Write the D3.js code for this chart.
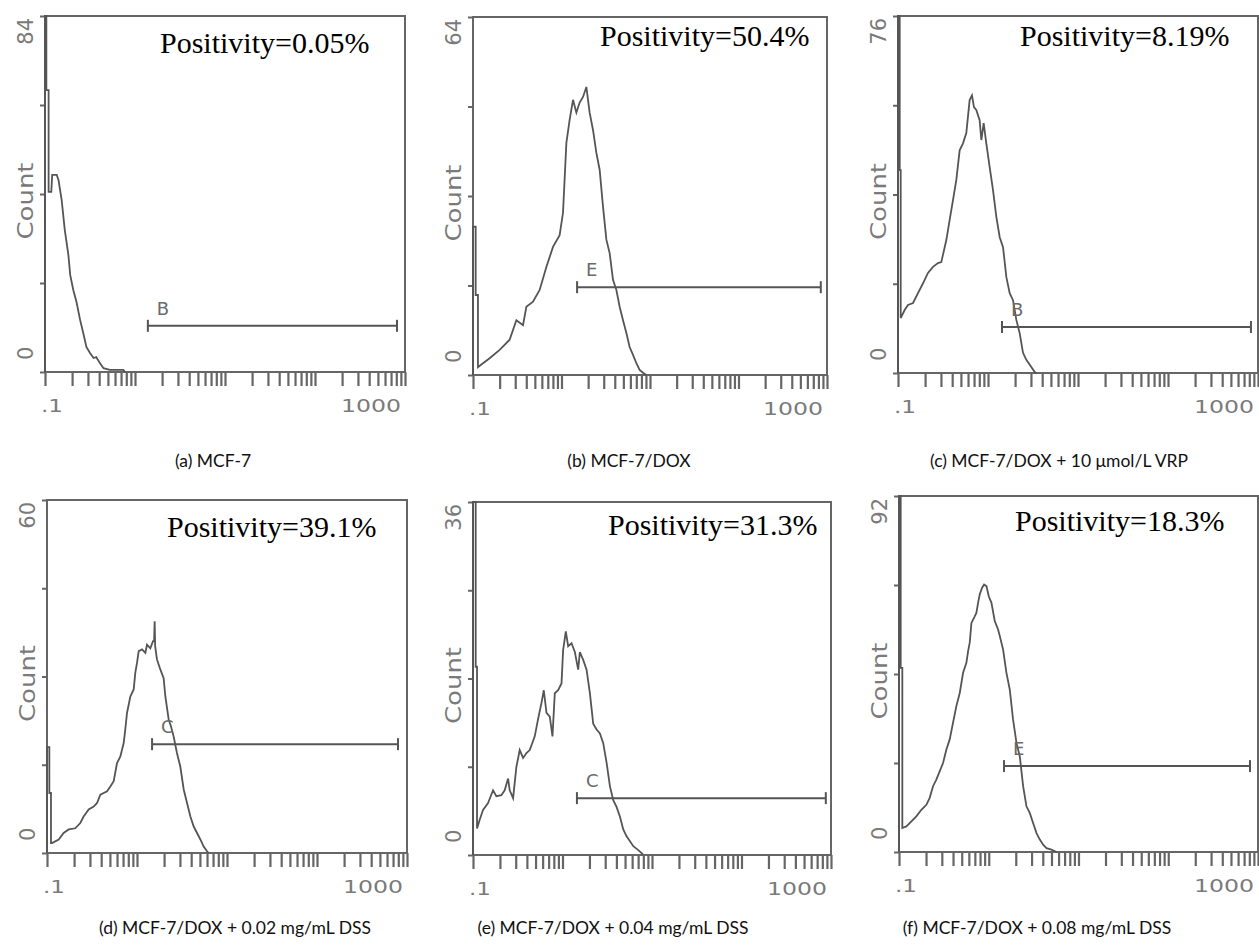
<!DOCTYPE html>
<html>
<head>
<meta charset="utf-8">
<script src="https://cdn.jsdelivr.net/npm/d3@7"></script>
<style>
  body { margin: 0; background: #fff; }
  svg { display: block; }
</style>
</head>
<body>
<script>
// panel captions and labels
const captions = [
  '(a) MCF-7',
  '(b) MCF-7/DOX',
  '(c) MCF-7/DOX + 10 \u03bcmol/L VRP',
  '(d) MCF-7/DOX + 0.02 mg/mL DSS',
  '(e) MCF-7/DOX + 0.04 mg/mL DSS',
  '(f) MCF-7/DOX + 0.08 mg/mL DSS',
];
const positivity = ['0.05%', '50.4%', '8.19%', '39.1%', '31.3%', '18.3%'];
const countMax = [84, 64, 76, 60, 36, 92];
const xDomain = [0.1, 1000];
const xTickLabels = ['.1', '1000'];

// gate markers: letter, fluorescence range, count level
const gateLetters = ['B', 'E', 'B', 'C', 'C', 'E'];
const gateRanges = [[1.39, 815], [1.5, 851], [1.43, 835], [1.47, 794], [1.45, 875], [1.48, 815]];
const gateCounts = [10.9, 15.7, 9.8, 18.5, 5.8, 22.2];

// histograms: [log10 fluorescence, count]
const histA = [[-1.0, 0], [-1.0, 84], [-0.985, 84], [-0.985, 66.5], [-0.96, 66.5], [-0.96, 42.5], [-0.93, 42.5],
  [-0.92, 46.5], [-0.87, 46.5], [-0.85, 45.3], [-0.815, 40.6], [-0.78, 33.5], [-0.74, 27.6], [-0.72, 22.9],
  [-0.685, 19.3], [-0.65, 16.5], [-0.61, 12.3], [-0.575, 9.2], [-0.54, 5.9], [-0.5, 4.5], [-0.46, 3.3],
  [-0.43, 3.5], [-0.39, 2.1], [-0.35, 0.9], [-0.28, 0.5], [-0.13, 0.5], [-0.11, 0]];

const histB = [[-1.0, 0], [-1.0, 26.5], [-0.97, 26.5], [-0.97, 14.3], [-0.944, 14.3], [-0.944, 1.4], [-0.887, 2.1],
  [-0.812, 3.0], [-0.699, 4.5], [-0.586, 6.3], [-0.51, 9.8], [-0.435, 8.9], [-0.397, 12.2], [-0.322, 13.1],
  [-0.247, 15.2], [-0.171, 19.3], [-0.096, 22.9], [-0.021, 25], [0.017, 29], [0.055, 41.5], [0.092, 45.6],
  [0.13, 49.2], [0.168, 46.9], [0.205, 48.7], [0.243, 49.7], [0.281, 51.5], [0.318, 46.9], [0.356, 43.8],
  [0.394, 39.7], [0.431, 36.7], [0.469, 30.1], [0.507, 24.2], [0.544, 21.8], [0.582, 17], [0.62, 15.2],
  [0.657, 12.2], [0.695, 9.8], [0.733, 7.5], [0.77, 5], [0.808, 3.6], [0.846, 2.1], [0.883, 0.9],
  [0.921, 0.4], [0.959, 0]];

const histC = [[-1.0, 0], [-1.0, 76], [-0.981, 76], [-0.981, 43.2], [-0.97, 43.2], [-0.97, 11.7], [-0.926, 13.4],
  [-0.889, 14.5], [-0.833, 14.9], [-0.778, 17], [-0.722, 19.1], [-0.667, 21.3], [-0.611, 22.6], [-0.556, 23.4],
  [-0.519, 23.6], [-0.463, 28.3], [-0.426, 32.6], [-0.389, 36.8], [-0.352, 41.1], [-0.315, 47.4],
  [-0.278, 48.9], [-0.241, 51.1], [-0.204, 58.1], [-0.178, 59.1], [-0.156, 56.6], [-0.13, 56], [-0.093, 53.8],
  [-0.074, 49.6], [-0.048, 53.2], [-0.019, 48.9], [0.019, 43.8], [0.056, 38.9], [0.093, 33.2], [0.13, 28.9],
  [0.167, 26.8], [0.204, 20.4], [0.241, 17], [0.278, 15.5], [0.315, 11.3], [0.352, 8.5], [0.389, 4.3],
  [0.426, 2.8], [0.481, 1.3], [0.519, 0.2], [0.537, 0]];

const histD = [[-1.0, 0], [-1.0, 18], [-0.974, 18], [-0.974, 10.2], [-0.956, 10.2], [-0.956, 1.7], [-0.944, 1.7],
  [-0.87, 2.3], [-0.815, 3.4], [-0.759, 4.0], [-0.685, 4.2], [-0.63, 5.1], [-0.593, 6.2], [-0.537, 7.4],
  [-0.481, 7.9], [-0.444, 8.5], [-0.407, 9.9], [-0.37, 10.2], [-0.333, 10.5], [-0.296, 11.3], [-0.259, 12.2],
  [-0.222, 15.3], [-0.185, 16.4], [-0.148, 18.7], [-0.13, 21.0], [-0.111, 23.8], [-0.074, 26.6],
  [-0.037, 27.8], [-0.019, 30.6], [0.0, 32.3], [0.019, 34.3], [0.056, 34.6], [0.093, 34.0], [0.111, 35.4],
  [0.148, 34.8], [0.178, 36.0], [0.19, 36.0], [0.196, 39.4], [0.202, 35.1], [0.222, 32.9], [0.259, 31.2],
  [0.296, 29.7], [0.315, 26.6], [0.352, 22.7], [0.378, 21.5], [0.407, 19.8], [0.444, 17.0], [0.481, 14.7],
  [0.519, 10.8], [0.556, 8.5], [0.593, 6.2], [0.63, 4.5], [0.667, 3.4], [0.704, 2.3], [0.741, 1.1],
  [0.778, 0.3], [0.796, 0]];

const histE = [[-1.0, 0], [-1.0, 36], [-0.97, 36], [-0.97, 19.2], [-0.955, 19.2], [-0.955, 2.7], [-0.925, 3.6],
  [-0.888, 4.6], [-0.832, 5.3], [-0.776, 6.6], [-0.739, 6.0], [-0.683, 6.1], [-0.646, 6.6], [-0.608, 7.8],
  [-0.59, 6.6], [-0.552, 5.8], [-0.515, 9.0], [-0.478, 10.7], [-0.44, 9.9], [-0.403, 10.4], [-0.366, 10.7],
  [-0.31, 12.1], [-0.272, 13.9], [-0.235, 15.5], [-0.209, 16.8], [-0.179, 14.5], [-0.142, 14.1],
  [-0.112, 12.1], [-0.086, 16.5], [-0.049, 16.8], [-0.011, 17.5], [0.007, 20.9], [0.037, 22.8],
  [0.063, 21.3], [0.101, 21.6], [0.138, 20.7], [0.175, 18.9], [0.194, 20.7], [0.231, 19.9], [0.269, 18.9],
  [0.306, 16.5], [0.343, 13.4], [0.381, 12.8], [0.418, 12.4], [0.455, 11.4], [0.493, 9.4], [0.53, 7.0],
  [0.567, 5.6], [0.604, 4.9], [0.642, 3.9], [0.679, 2.6], [0.716, 1.9], [0.754, 1.4], [0.791, 0.9],
  [0.847, 0.5], [0.884, 0.2], [0.903, 0]];

const histF = [[-1.0, 0], [-1.0, 92], [-0.981, 92], [-0.981, 47.6], [-0.963, 47.6], [-0.963, 6.2], [-0.918, 6.6],
  [-0.862, 7.9], [-0.807, 9.2], [-0.751, 10.9], [-0.695, 12.2], [-0.658, 14.0], [-0.621, 17.0], [-0.584, 18.7],
  [-0.546, 20.9], [-0.509, 23.0], [-0.472, 26.5], [-0.435, 29.1], [-0.398, 33.4], [-0.361, 37.7],
  [-0.323, 41.1], [-0.286, 46.3], [-0.249, 48.9], [-0.23, 51.9], [-0.212, 54.1], [-0.193, 59.2],
  [-0.156, 60.9], [-0.138, 61.8], [-0.119, 64.4], [-0.1, 66.6], [-0.074, 68.3], [-0.052, 69.1],
  [-0.026, 68.7], [0.0, 66.1], [0.03, 64.4], [0.067, 59.7], [0.104, 57.5], [0.123, 55.8], [0.16, 52.3],
  [0.197, 46.3], [0.234, 42.0], [0.271, 34.2], [0.309, 28.2], [0.346, 24.7], [0.383, 17.0], [0.42, 11.8],
  [0.457, 10.1], [0.494, 7.5], [0.532, 4.9], [0.569, 3.2], [0.606, 1.9], [0.643, 1.0], [0.699, 0.6],
  [0.755, 0]];

const histograms = [histA, histB, histC, histD, histE, histF];

// page layout (pixels)
const boxes = [
  { left: 45, right: 405, top: 16, bottom: 372 },
  { left: 473, right: 827, top: 17, bottom: 375 },
  { left: 898, right: 1258, top: 16, bottom: 373 },
  { left: 47, right: 407, top: 500, bottom: 853 },
  { left: 473, right: 831, top: 502, bottom: 855 },
  { left: 899, right: 1258, top: 496, bottom: 852 },
];
const positivityAt = [[160, 53], [600, 46], [1020, 46], [167, 537], [608, 535], [1015, 531]];
const captionAt = [[213, 467], [629, 467], [1059, 467], [235, 934], [613, 934], [1037, 934]];

const gray = '#666';
const curveGray = '#555';
const labelGray = '#7a7a7a';

const svg = d3.select('body')
  .append('svg')
  .attr('width', 1259)
  .attr('height', 945);

function drawPanel(i) {
  const box = boxes[i];
  const g = svg.append('g');

  const xScale = d3.scaleLog().domain(xDomain).range([box.left, box.right]);
  const yScale = d3.scaleLinear().domain([0, countMax[i]]).range([box.bottom, box.top]).clamp(true);

  // x axis ticks
  const xAxisGenerator = d3.axisBottom(xScale)
    .tickValues(xScale.ticks())
    .tickSize(14)
    .tickFormat('');
  g.append('g')
    .attr('transform', `translate(0,${box.bottom})`)
    .call(xAxisGenerator)
    .call((a) => a.select('.domain').remove())
    .selectAll('line')
    .attr('stroke', gray)
    .attr('stroke-width', 2.2);

  // y axis ticks
  const m = countMax[i];
  const yAxisGenerator = d3.axisLeft(yScale)
    .tickValues([0, m / 4, m / 2, (3 * m) / 4, m])
    .tickSize(5)
    .tickFormat('');
  g.append('g')
    .attr('transform', `translate(${box.left},0)`)
    .call(yAxisGenerator)
    .call((a) => a.select('.domain').remove())
    .selectAll('line')
    .attr('stroke', gray)
    .attr('stroke-width', 2);

  // frame
  g.append('rect')
    .attr('x', box.left)
    .attr('y', box.top)
    .attr('width', box.right - box.left)
    .attr('height', box.bottom - box.top)
    .attr('fill', 'none')
    .attr('stroke', gray)
    .attr('stroke-width', 2);

  // histogram
  const lineGenerator = d3.line()
    .x((d) => xScale(Math.pow(10, d[0])))
    .y((d) => yScale(d[1]));
  g.append('path')
    .attr('d', lineGenerator(histograms[i]))
    .attr('fill', 'none')
    .attr('stroke', curveGray)
    .attr('stroke-width', 1.8);

  // gate marker
  const gx0 = xScale(gateRanges[i][0]);
  const gx1 = xScale(gateRanges[i][1]);
  const gy = yScale(gateCounts[i]);
  const gate = g.append('g').attr('stroke', curveGray).attr('stroke-width', 2);
  gate.append('line').attr('x1', gx0).attr('x2', gx1).attr('y1', gy).attr('y2', gy);
  gate.append('line').attr('x1', gx0).attr('x2', gx0).attr('y1', gy - 6).attr('y2', gy + 6);
  gate.append('line').attr('x1', gx1).attr('x2', gx1).attr('y1', gy - 6).attr('y2', gy + 6);
  g.append('text')
    .attr('x', gx0 + 9)
    .attr('y', gy - 11)
    .attr('fill', '#6a6a6a')
    .style('font-family', 'DejaVu Sans')
    .style('font-size', '18px')
    .text(gateLetters[i]);

  // x tick labels
  g.append('text')
    .attr('x', xScale(xDomain[0]) - 4)
    .attr('y', box.bottom + 40)
    .attr('textLength', 22)
    .attr('lengthAdjust', 'spacingAndGlyphs')
    .attr('fill', labelGray)
    .style('font-family', 'DejaVu Sans')
    .style('font-size', '17px')
    .text(xTickLabels[0]);
  g.append('text')
    .attr('x', xScale(xDomain[1]) - 64)
    .attr('y', box.bottom + 40)
    .attr('textLength', 60)
    .attr('lengthAdjust', 'spacingAndGlyphs')
    .attr('fill', labelGray)
    .style('font-family', 'DejaVu Sans')
    .style('font-size', '17px')
    .text(xTickLabels[1]);

  // y labels (rotated)
  const yText = (y, anchor, str, len) => {
    const t = g.append('text')
      .attr('transform', `translate(${box.left - 12},${y}) rotate(-90)`)
      .attr('text-anchor', anchor)
      .attr('fill', labelGray)
      .style('font-family', 'DejaVu Sans')
      .style('font-size', '21px')
      .text(str);
    if (len) t.attr('textLength', len).attr('lengthAdjust', 'spacingAndGlyphs');
  };
  yText(yScale(m) + 2, 'end', String(m));
  yText(yScale(0) - 12, 'start', '0');
  yText((box.top + box.bottom) / 2 + 7, 'middle', 'Count', 77);

  // positivity
  g.append('text')
    .attr('x', positivityAt[i][0])
    .attr('y', positivityAt[i][1])
    .attr('fill', '#000')
    .style('font-family', 'Liberation Serif')
    .style('font-size', '30px')
    .text(`Positivity=${positivity[i]}`);

  // caption
  g.append('text')
    .attr('x', captionAt[i][0])
    .attr('y', captionAt[i][1])
    .attr('text-anchor', 'middle')
    .attr('fill', '#111')
    .style('font-family', 'Lato')
    .style('font-size', '17.5px')
    .text(captions[i]);
}

d3.range(6).forEach(drawPanel);
</script>
</body>
</html>
